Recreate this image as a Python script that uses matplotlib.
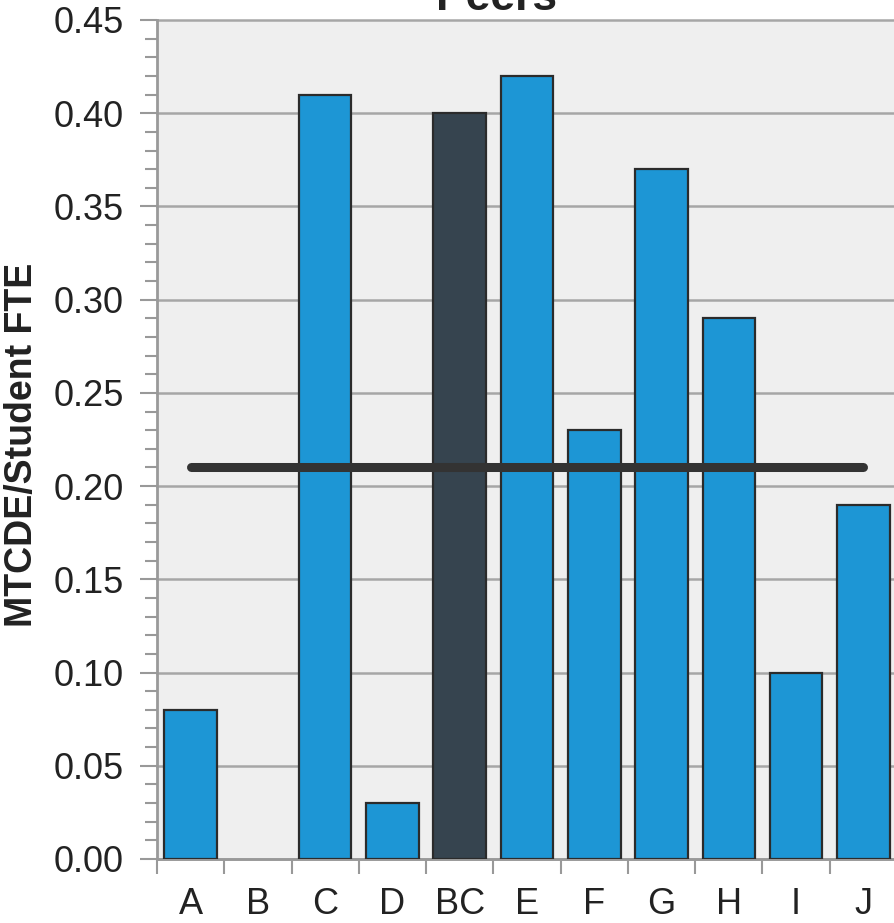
import matplotlib
matplotlib.use("Agg")
import matplotlib.pyplot as plt
from matplotlib.ticker import MultipleLocator, FixedLocator, NullFormatter, FixedFormatter, FuncFormatter

categories = ["A", "B", "C", "D", "BC", "E", "F", "G", "H", "I", "J"]
values = [0.08, 0.0, 0.41, 0.03, 0.40, 0.42, 0.23, 0.37, 0.29, 0.10, 0.19]
highlight = "BC"
peer_average = 0.21

plt.rcParams['font.family'] = ['Liberation Sans', 'DejaVu Sans']

fig = plt.figure(figsize=(8.94, 9.23), dpi=100)
ax = fig.add_axes([157/894, 64/923, 740/894, 839/923])
ax.set_facecolor('#efefef')

blue = '#1d96d5'
dark = '#36444f'
colors = [dark if c == highlight else blue for c in categories]
x = list(range(len(categories)))
edge_widths = [1.6 if v > 0 else 0 for v in values]
ax.bar(x, values, width=0.78, color=colors, edgecolor='#2b2b2b', linewidth=edge_widths, zorder=3)

ax.plot([x[0], x[-1]], [peer_average, peer_average], color='#333333', linewidth=6.5,
        solid_capstyle='round', zorder=4)

ax.set_xlim(-0.5, len(categories) - 0.5)
ax.set_ylim(0, 0.45)

ax.yaxis.set_major_locator(MultipleLocator(0.05))
ax.yaxis.set_minor_locator(MultipleLocator(0.01))
ax.yaxis.set_major_formatter(FuncFormatter(lambda v, p: f"{v:.2f}"))
ax.tick_params(axis='y', which='major', length=12, width=1.5, color='#999999',
               labelsize=26, labelcolor='#222222', pad=12)
ax.tick_params(axis='y', which='minor', length=9, width=1.5, color='#999999')

ax.xaxis.set_major_locator(FixedLocator([i - 0.5 for i in range(len(categories) + 1)]))
ax.xaxis.set_major_formatter(NullFormatter())
ax.xaxis.set_minor_locator(FixedLocator(x))
ax.xaxis.set_minor_formatter(FixedFormatter(categories))
ax.tick_params(axis='x', which='major', length=11, width=1.5, color='#999999')
ax.tick_params(axis='x', which='minor', length=0, labelsize=26, labelcolor='#222222', pad=20)

ax.yaxis.grid(True, which='major', color='#a6a6a6', linewidth=1.8, zorder=0)
ax.set_axisbelow(True)
for gl in ax.yaxis.get_gridlines():
    gl.set_clip_on(False)

for s in ['top', 'right']:
    ax.spines[s].set_visible(False)
ax.spines['left'].set_color('#999999')
ax.spines['left'].set_linewidth(2)
ax.spines['bottom'].set_color('#999999')
ax.spines['bottom'].set_linewidth(2)

fig.text(22/894, 1 - 445/923, "MTCDE/Student FTE", rotation=90, fontsize=27,
         fontweight='bold', color='#222222', ha='center', va='center')
fig.text(497/894, 1 - 10/923, "Peers", fontsize=32, fontweight='bold', color='#222222',
         ha='center', va='baseline')

fig.savefig("out.png", dpi=100)
